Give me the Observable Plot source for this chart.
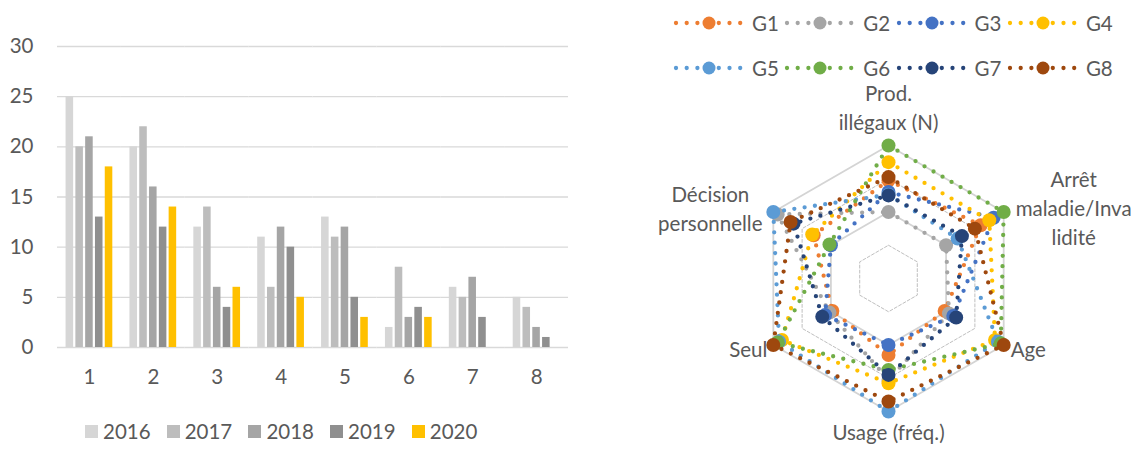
<!DOCTYPE html>
<html>
<head>
<meta charset="utf-8">
<script src="https://cdn.jsdelivr.net/npm/d3@7"></script>
<script src="https://cdn.jsdelivr.net/npm/@observablehq/plot@0.6"></script>
<style>
  body { margin: 0; background: #fff; }
  #root { position: relative; width: 1143px; height: 450px; overflow: hidden;
          font-family: Lato, "Liberation Sans", sans-serif; color: #595959; }
  #bars { position: absolute; left: 0; top: 0; }
  #radar { position: absolute; left: 640px; top: 0; }
  .bleg { position: absolute; left: 85px; top: 419px; display: grid;
          grid-template-columns: repeat(5, 81.7px); font-size: 20.5px; }
  .rleg { position: absolute; left: 672px; top: 11px; display: grid;
          grid-template-columns: repeat(4, 111.3px); row-gap: 21px; font-size: 20.5px; }
  .item { display: flex; align-items: center; height: 24px; white-space: nowrap; }
  .sw { width: 13px; height: 13px; margin-right: 5px; flex: none; }
  .rleg svg { width: 72px; height: 16px; margin-right: 8px; flex: none; }
</style>
</head>
<body>
<div id="root">
  <div id="bars"></div>
  <div class="bleg" id="barLegend"></div>
  <div id="radar"></div>
  <div class="rleg" id="radarLegend"></div>
</div>
<script>
// ---- Bar chart data: counts per group and year ----
const groups = ["1", "2", "3", "4", "5", "6", "7", "8"];
const years = ["2016", "2017", "2018", "2019", "2020"];
const counts2016 = [25, 20, 12, 11, 13, 2, 6, 5];
const counts2017 = [20, 22, 14, 6, 11, 8, 5, 4];
const counts2018 = [21, 16, 6, 12, 12, 3, 7, 2];
const counts2019 = [13, 12, 4, 10, 5, 4, 3, 1];
const counts2020 = [18, 14, 6, 5, 3, 3, null, null];
const yearColors = ["#d6d6d6", "#bdbdbd", "#a5a5a5", "#8f8f8f", "#ffc000"];
const yTicks = [0, 5, 10, 15, 20, 25, 30];

// ---- Radar data: one profile per group over six dimensions ----
const axes = ["Prod.\nillégaux (N)", "Arrêt\nmaladie/Inva\nlidité", "Age", "Usage (fréq.)", "Seul", "Décision\npersonnelle"];
const seriesNames = ["G1", "G2", "G3", "G4", "G5", "G6", "G7", "G8"];
const seriesColors = ["#ed7d31", "#a5a5a5", "#4472c4", "#ffc000", "#5b9bd5", "#70ad47", "#264478", "#9e480e"];
const g1 = [2.95, 3.2, 1.95, 2.3, 1.95, 2.6];
const g2 = [2.0, 2.0, 2.1, 3.05, 2.05, 3.85];
const g3 = [2.6, 3.65, 2.25, 2.0, 2.2, 2.0];
const g4 = [3.5, 3.5, 3.7, 3.15, 3.7, 2.65];
const g5 = [2.52, 2.4, 3.8, 4.0, 3.8, 4.0];
const g6 = [4.0, 4.0, 3.9, 2.75, 3.85, 2.05];
const g7 = [2.5, 2.55, 2.35, 2.9, 2.3, 3.3];
const g8 = [3.05, 3.0, 4.0, 3.7, 4.0, 3.4];
const gridLevels = [1, 2, 3, 4];

const font = "Lato, 'Liberation Sans', sans-serif";

// ---------------- Bar chart ----------------
const yearValues = [counts2016, counts2017, counts2018, counts2019, counts2020];
const barRows = groups.flatMap((g, i) =>
  years.map((yr, j) => ({group: g, year: yr, value: yearValues[j][i]}))
).filter(d => d.value != null);

const bars = Plot.plot({
  width: 600, height: 400,
  marginLeft: 57, marginRight: 32, marginTop: 46, marginBottom: 53,
  style: {fontFamily: font, fontSize: "20.5px", color: "#595959", background: "transparent"},
  fx: {domain: groups, paddingInner: 0, paddingOuter: 0, round: false},
  x: {domain: years, paddingInner: 0.23, paddingOuter: 0.875, round: false, axis: null},
  y: {domain: [0, 30]},
  color: {domain: years, range: yearColors},
  marks: [
    Plot.ruleY(yTicks, {stroke: "#d9d9d9", strokeWidth: 1.3}),
    Plot.barY(barRows, {fx: "group", x: "year", y: "value", fill: "year"}),
    Plot.axisY(yTicks, {tickSize: 0, tickPadding: 24, label: null}),
    Plot.axisFx({anchor: "bottom", tickSize: 0, tickPadding: 22, label: null})
  ]
});
document.getElementById("bars").append(bars);

const barLegend = document.getElementById("barLegend");
years.forEach((yr, j) => {
  const item = document.createElement("div");
  item.className = "item";
  item.innerHTML = `<span class="sw" style="background:${yearColors[j]}"></span>${yr}`;
  barLegend.append(item);
});

// ---------------- Radar chart ----------------
const seriesValues = [g1, g2, g3, g4, g5, g6, g7, g8];
const unit = 133 / 4;          // pixels per radial unit
const W = 503, H = 450;        // radar panel size
const cx = 248, cy = 278;      // radar centre inside the panel
const angle = k => k * Math.PI / 3;   // clockwise from the top
const polar = (v, k) => ({x: v * Math.sin(angle(k)), y: v * Math.cos(angle(k))});

const gridRows = gridLevels.flatMap(level => axes.map((a, k) => ({level, ...polar(level, k)})));
const radarRows = seriesNames.flatMap((s, i) =>
  axes.map((a, k) => ({series: s, axis: a, value: seriesValues[i][k], ...polar(seriesValues[i][k], k)}))
);

const dotted = {strokeWidth: 4.3, strokeDasharray: "0,10.4", strokeLinecap: "round"};
const seriesMarks = seriesNames.flatMap((s, i) => {
  const rows = radarRows.filter(d => d.series === s);
  return [
    Plot.line(rows, {x: "x", y: "y", curve: "linear-closed", stroke: seriesColors[i], ...dotted}),
    Plot.dot(rows, {x: "x", y: "y", r: 7, fill: seriesColors[i]})
  ];
});

// label offsets (pixels) from each outer vertex
const labelPlacement = [
  {dx: 0, dy: -39, anchor: "middle"},
  {dx: 70, dy: -5, anchor: "middle"},
  {dx: 7, dy: 3, anchor: "start"},
  {dx: 0, dy: 19, anchor: "middle"},
  {dx: -6, dy: 3, anchor: "end"},
  {dx: -63, dy: -5, anchor: "middle"}
];
const maxLevel = d3.max(gridLevels);
const labelMarks = axes.map((a, k) => {
  const p = polar(maxLevel, k);
  const L = labelPlacement[k];
  return Plot.text([a], {x: () => p.x, y: () => p.y, text: d => d, dx: L.dx, dy: L.dy,
    textAnchor: L.anchor, lineAnchor: "middle", lineHeight: 1.42, fill: "#595959"});
});

const radar = Plot.plot({
  width: W, height: H,
  margin: 0,
  style: {fontFamily: font, fontSize: "20.5px", color: "#595959", background: "transparent", overflow: "visible"},
  x: {domain: [-cx / unit, (W - cx) / unit], axis: null},
  y: {domain: [-(H - cy) / unit, cy / unit], axis: null},
  marks: [
    Plot.line(gridRows.filter(d => d.level % 2 === 0), {x: "x", y: "y", z: "level", curve: "linear-closed", stroke: "#d4d4d4", strokeWidth: 1.8}),
    Plot.line(gridRows.filter(d => d.level % 2 === 1), {x: "x", y: "y", z: "level", curve: "linear-closed", stroke: "#bfbfbf", strokeWidth: 1, strokeDasharray: "3,2"}),
    ...seriesMarks,
    ...labelMarks
  ]
});
document.getElementById("radar").append(radar);

const radarLegend = document.getElementById("radarLegend");
seriesNames.forEach((s, i) => {
  const item = document.createElement("div");
  item.className = "item";
  item.innerHTML = `<svg viewBox="0 0 72 16"><line x1="4" y1="8" x2="70" y2="8" stroke="${seriesColors[i]}" stroke-width="4.3" stroke-dasharray="0,10.7" stroke-linecap="round"/><circle cx="37" cy="8" r="6.5" fill="${seriesColors[i]}"/></svg>${s}`;
  radarLegend.append(item);
});
</script>
</body>
</html>
